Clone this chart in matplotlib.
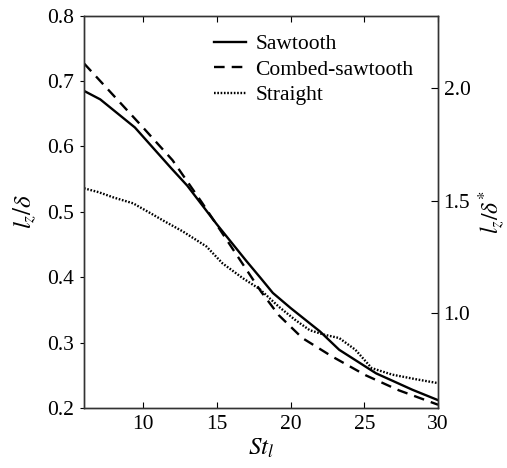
import numpy as np
import matplotlib
matplotlib.use("Agg")
import matplotlib.pyplot as plt

plt.rcParams['font.family'] = ['Liberation Serif', 'DejaVu Serif']
plt.rcParams['mathtext.fontset'] = 'stix'

# data
st_saw = [6.0, 7.1, 9.45, 11.9, 13.0, 15.0, 16.0, 17.0, 18.0, 18.8, 20.0, 22.0, 23.3, 25.8, 28.25, 30.0]
lz_saw = [0.685, 0.672, 0.629, 0.567, 0.540, 0.481, 0.453, 0.425, 0.398, 0.376, 0.353, 0.317, 0.289, 0.253, 0.228, 0.212]

st_comb = [6.0, 8.0, 10.0, 12.0, 14.0, 16.0, 18.0, 19.2, 20.8, 22.8, 25.1, 27.35, 30.0]
lz_comb = [0.727, 0.678, 0.629, 0.579, 0.514, 0.446, 0.378, 0.342, 0.307, 0.279, 0.250, 0.227, 0.205]

st_str = [6.0, 7.0, 8.0, 9.33, 10.5, 11.5, 12.7, 14.3, 15.4, 16.8, 17.9, 19.2, 20.3, 21.3, 22.3, 23.3, 24.4, 25.5, 26.9, 28.5, 30.0]
lz_str = [0.536, 0.530, 0.522, 0.513, 0.498, 0.485, 0.470, 0.447, 0.421, 0.398, 0.382, 0.355, 0.335, 0.319, 0.312, 0.307, 0.289, 0.261, 0.251, 0.244, 0.238]

ratio = 2.9  # delta / delta*

fig = plt.figure(figsize=(5.07, 4.68), dpi=100)
ax = fig.add_axes([0.1657, 0.1282, 0.6983, 0.8383])

ax.plot(st_saw, lz_saw, color='black', lw=1.7, label='Sawtooth')
ax.plot(st_comb, lz_comb, color='black', lw=1.7, ls=(0, (4.5, 3)), label='Combed-sawtooth')
ax.plot(st_str, lz_str, color='black', lw=1.7, ls=(0, (0.7, 0.7)), label='Straight')

ax.set_xlim(6, 30)
ax.set_ylim(0.2, 0.8)
ax.set_xticks([10, 15, 20, 25, 30])
ax.set_yticks(np.arange(0.2, 0.81, 0.1))
ax.set_yticklabels(['0.2', '0.3', '0.4', '0.5', '0.6', '0.7', '0.8'])
ax.tick_params(axis='x', direction='in', top=True, length=4, labelsize=15.5, pad=5)
ax.tick_params(axis='y', direction='out', length=3, labelsize=15.5, pad=4)
ax.set_xlabel(r'$St_l$', fontsize=18, labelpad=2)
ax.set_ylabel(r'$l_z/\delta$', fontsize=18, labelpad=6)

ax2 = ax.twinx()
ax2.set_ylim(0.2 * ratio, 0.8 * ratio)
ax2.set_yticks([1.0, 1.5, 2.0])
ax2.set_yticklabels(['1.0', '1.5', '2.0'])
ax2.tick_params(axis='y', direction='in', length=5, labelsize=15.5, pad=4)
ax2.set_ylabel(r'$l_z/\delta^{*}$', fontsize=17, labelpad=4)

for a in (ax, ax2):
    for s in a.spines.values():
        s.set_color('#333333')
        s.set_linewidth(1.0)

ax.legend(loc='upper right', bbox_to_anchor=(0.98, 0.997), frameon=False,
          fontsize=15.5, handlelength=1.5, handletextpad=0.45, labelspacing=0.25,
          borderpad=0.3)

fig.savefig('out.png', dpi=100)
